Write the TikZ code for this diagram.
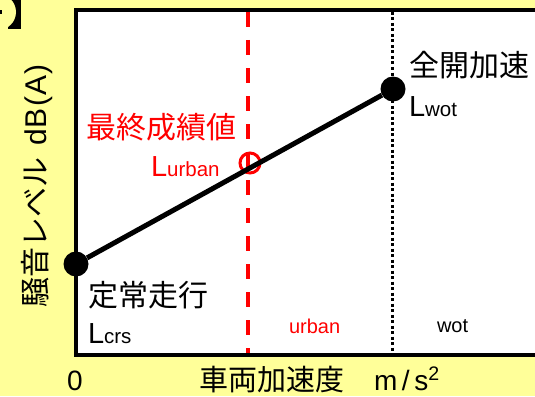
\documentclass[tikz,border=0pt]{standalone}
\usepackage{fontspec}
\setmainfont{Liberation Sans}
\newfontfamily\jp{Noto Sans CJK JP}
\definecolor{bgyellow}{RGB}{255,255,153}
\definecolor{lred}{RGB}{255,0,0}
\tikzset{
  txt/.style={inner sep=0pt, outer sep=0pt},
  big/.style={font=\jp\fontsize{30}{30}\selectfont},
  dotnode/.style={circle, fill=black, inner sep=0pt, minimum size=25pt},
}
\newcommand{\Lbig}[1]{{\fontsize{29}{29}\selectfont L}{\fontsize{20.5}{20.5}\selectfont #1}}
\begin{document}
\begin{tikzpicture}[x=1pt,y=-1pt]
\clip (0,0) rectangle (535,396);
\useasboundingbox (0,0) rectangle (535,396);
\fill[bgyellow] (0,0) rectangle (535,396);
% cropped badge at top left
\fill[black] (8,0) rectangle (21,29);
\fill[bgyellow] (-2,12) circle (18);
\fill[black] (0,10) rectangle (2,14);
% plot box
\draw[line width=4pt, fill=white] (75.5,10) rectangle (545,355);
% vertical lines
\coordinate (rtop) at (248,12);
\coordinate (rbot) at (248,353);
\coordinate (btop) at (392,12);
\coordinate (bbot) at (392,353);
\draw[lred, line width=4pt, dash pattern=on 15pt off 13pt] (rtop) -- (rbot);
\draw[black, line width=3pt, dash pattern=on 3pt off 2.5pt] (btop) -- (bbot);
% points
\node[dotnode] (crs) at (76,264) {};
\node[dotnode] (wot) at (393,89) {};
\node[circle, draw=lred, line width=3pt, inner sep=0pt, minimum size=20pt] (urb) at (250,163) {};
\draw[line width=5pt] (crs) -- (wot);
% labels
\node[txt, big, anchor=west] (tzenkai) at (409,65) {全開加速};
\node[txt, anchor=base west] (twot) at (409,116) {\Lbig{wot}};
\node[txt, big, anchor=west, text=lred] (tsaishu) at (86,127) {最終成績値};
\node[txt, anchor=base west, text=lred] (turb) at (151,176) {\Lbig{urban}};
\node[txt, big, anchor=west] (tteijo) at (88,295) {定常走行};
\node[txt, anchor=base west] (tcrs) at (88,343) {\Lbig{crs}};
\node[txt, anchor=base west, text=lred, font=\fontsize{20}{20}\selectfont] (rurb) at (289,333) {urban};
\node[txt, anchor=base west, font=\fontsize{20}{20}\selectfont] (rwot) at (437,332) {wot};
% axes labels
\node[txt, anchor=base west, font=\fontsize{28}{28}\selectfont] (zero) at (67,390) {0};
\node[txt, font=\jp\fontsize{29}{29}\selectfont, anchor=center] (xlab) at (272,380) {車両加速度};
\node[txt, anchor=base west, font=\fontsize{28}{28}\selectfont] (unit) at (374,390) {m\,/\,s\textsuperscript{2}};
\node[txt, big, rotate=90, anchor=center] (ylab) at (37,186) {騒音レベル\hspace{12pt}{\fontspec{Liberation Sans}dB\kern2pt(\kern1pt A\kern1pt)}};
\end{tikzpicture}
\end{document}
